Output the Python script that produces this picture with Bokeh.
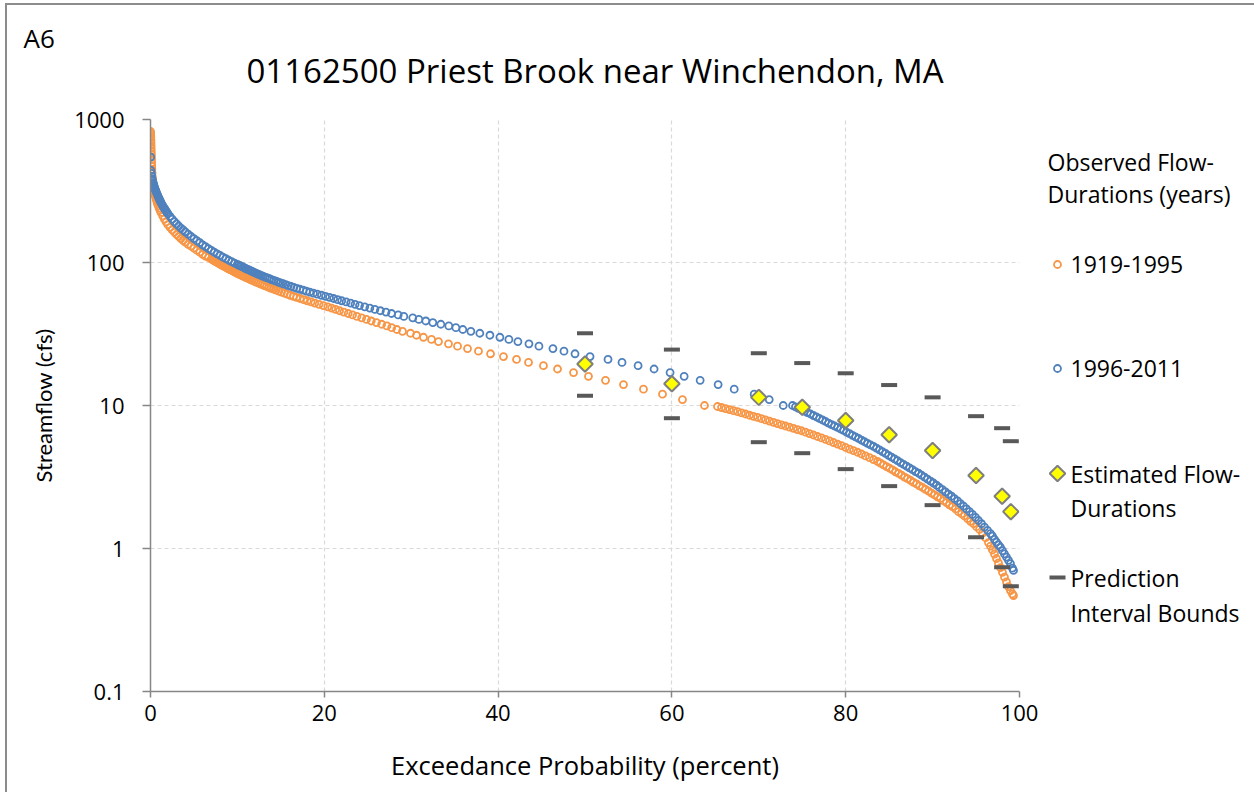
import numpy as np
from bokeh.plotting import figure
from bokeh.models import Range1d, FixedTicker, Title
from bokeh.layouts import row
from bokeh.embed import file_html
from bokeh.resources import INLINE
from bokeh.core.properties import value

FONT = "Open Sans"
ORANGE = "#F79646"
BLUE = "#4F81BD"

# ---------------- data ----------------
# Observed flow-durations 1919-1995 : exceedance (percent) and streamflow (cfs)
obs_a_top_pct = [0.01, 0.02, 0.03, 0.04, 0.05, 0.06, 0.07, 0.08, 0.09, 0.10, 0.11, 0.12, 0.13, 0.14, 0.16, 0.18,
                 0.2, 0.25, 0.3, 0.35, 0.4, 0.45, 0.5, 0.575, 0.65, 0.725, 0.8, 0.9, 1.0, 1.1, 1.2, 1.4, 1.6, 1.8,
                 2.0, 2.25, 2.5, 2.75, 3.0, 3.25, 3.5, 3.75, 4.0, 4.33, 4.67, 5.0, 5.33, 5.67, 6.0, 6.33, 6.67, 7.0]
obs_a_top_cfs = [824, 800, 775, 750, 720, 690, 660, 630, 600, 575, 550, 525, 500, 475, 450, 425,
                 400, 380, 360, 342, 325, 312, 300, 289, 278, 268, 258, 249, 240, 232, 224, 212, 201, 192,
                 184, 176, 169, 163, 157, 152, 147, 143, 139, 134, 130, 126, 122, 118, 114, 111, 108.5, 105.8]
obs_a_mid_cfs = [105, 104, 103, 102, 101, 100, 99, 98, 97, 96, 95, 94, 93, 92, 91, 90, 89, 88, 87, 86, 85, 84,
                 83, 82, 81, 80, 79, 78, 77, 76, 75, 74, 73, 72, 71, 70, 69, 68, 67, 66, 65, 64, 63, 62, 61, 60,
                 59, 58, 57, 56, 55, 54, 53, 52, 51, 50, 49, 48, 47, 46, 45, 44, 43, 42, 41, 40, 39, 38, 37, 36,
                 35, 34, 33, 32, 31, 30, 29, 28, 27, 26, 25, 24, 23, 22, 21, 20, 19, 18, 17, 16, 15, 14, 13, 12,
                 11, 10]
obs_a_mid_pct = [7.1, 7.21, 7.33, 7.45, 7.57, 7.69, 7.81, 7.93, 8.06, 8.19, 8.33, 8.47, 8.61, 8.75, 8.89, 9.03,
                 9.19, 9.35, 9.51, 9.67, 9.83, 9.98, 10.16, 10.35, 10.53, 10.71, 10.89, 11.08, 11.29, 11.5, 11.71,
                 11.92, 12.14, 12.38, 12.62, 12.86, 13.1, 13.37, 13.63, 13.89, 14.18, 14.47, 14.76, 15.07, 15.4,
                 15.73, 16.07, 16.44, 16.81, 17.21, 17.63, 18.04, 18.48, 18.91, 19.4, 19.9, 20.4, 20.85, 21.3,
                 21.75, 22.25, 22.75, 23.25, 23.75, 24.3, 24.85, 25.4, 26.0, 26.6, 27.2, 27.75, 28.35, 29.0,
                 29.92, 30.61, 31.41, 32.34, 33.14, 34.29, 35.33, 36.48, 37.74, 39.13, 40.62, 42.12, 43.5, 45.22,
                 46.84, 48.68, 50.4, 52.36, 54.43, 56.73, 58.92, 61.22, 63.75]
obs_a_low_pct = [65.25, 65.71, 66.17, 66.63, 67.09, 67.55, 68.01, 68.47, 68.93, 69.39, 69.85, 70.31, 70.77,
                 71.23, 71.69, 72.15, 72.61, 73.07, 73.53, 73.99, 74.45, 74.91, 75.37, 75.83, 76.29, 76.75,
                 77.22, 77.68, 78.14, 78.60, 79.06, 79.52, 79.98, 80.44, 80.90, 81.36, 81.82, 82.28, 82.74,
                 83.20, 83.66, 84.00, 84.35, 84.70, 85.04, 85.39, 85.73, 86.08, 86.42, 86.77, 87.11, 87.46,
                 87.80, 88.15, 88.49, 88.84, 89.18, 89.53, 89.87, 90.22, 90.56, 90.91, 91.25, 91.60, 91.94,
                 92.29, 92.64, 92.98, 93.33, 93.67, 94.02, 94.36, 94.71, 95.05, 95.40, 95.74, 96.09, 96.43,
                 96.66, 96.89, 97.12, 97.35, 97.58, 97.81, 98.04, 98.27, 98.50, 98.73, 98.96, 99.19, 99.31]
obs_a_low_cfs = [9.84, 9.68, 9.51, 9.36, 9.20, 9.05, 8.89, 8.72, 8.55, 8.39, 8.25, 8.09, 7.93, 7.78, 7.63,
                 7.47, 7.33, 7.19, 7.05, 6.92, 6.79, 6.66, 6.51, 6.36, 6.22, 6.07, 5.93, 5.79, 5.65, 5.51, 5.37,
                 5.24, 5.10, 4.96, 4.84, 4.71, 4.58, 4.44, 4.32, 4.19, 4.06, 3.95, 3.84, 3.74, 3.64, 3.55, 3.44,
                 3.35, 3.26, 3.16, 3.08, 2.99, 2.90, 2.83, 2.74, 2.67, 2.59, 2.52, 2.44, 2.37, 2.30, 2.24, 2.16,
                 2.09, 2.02, 1.96, 1.89, 1.81, 1.75, 1.69, 1.62, 1.55, 1.49, 1.42, 1.36, 1.28, 1.19, 1.10, 1.04,
                 0.976, 0.915, 0.851, 0.792, 0.736, 0.682, 0.631, 0.585, 0.542, 0.508, 0.481, 0.469]

# Observed flow-durations 1996-2011
obs_b_top_pct = [0.02, 0.06, 0.1, 0.15, 0.2, 0.25, 0.3, 0.35, 0.4, 0.45, 0.5, 0.55, 0.6, 0.675, 0.75, 0.825,
                 0.9, 0.975, 1.05, 1.125, 1.2, 1.3, 1.4, 1.5, 1.6, 1.7, 1.8, 1.9, 2.0, 2.25, 2.5, 2.75, 3.0,
                 3.25, 3.5, 3.75, 4.0, 4.33, 4.67, 5.0, 5.33, 5.67, 6.0, 6.33, 6.67, 7.0, 7.33, 7.67, 8.0, 8.33,
                 8.67, 9.0, 9.33, 9.67, 10.0]
obs_b_top_cfs = [545, 440, 420, 400, 385, 373, 362, 353, 345, 337, 330, 324, 318, 310, 302, 295, 288, 281,
                 275, 269, 263, 256, 250, 244, 239, 234, 229, 224, 220, 210, 201, 193, 186, 180, 174, 169, 164,
                 158, 152, 147, 142, 137.5, 133, 129, 125, 121.5, 118, 115, 112, 109, 106.3, 103.7, 101.3, 99.1,
                 97]
obs_b_mid_cfs = [96, 95, 94, 93, 92, 91, 90, 89, 88, 87, 86, 85, 84, 83, 82, 81, 80, 79, 78, 77, 76, 75, 74,
                 73, 72, 71, 70, 69, 68, 67, 66, 65, 64, 63, 62, 61, 60, 59, 58, 57, 56, 55, 54, 53, 52, 51, 50,
                 49, 48, 47, 46, 45, 44, 43, 42, 41, 40, 39, 38, 37, 36, 35, 34, 33, 32, 31, 30, 29, 28, 27, 26,
                 25, 24, 23, 22, 21, 20, 19, 18, 17, 16, 15, 14, 13, 12, 11, 10]
obs_b_mid_pct = [10.15, 10.31, 10.46, 10.62, 10.77, 10.92, 11.09, 11.27, 11.45, 11.63, 11.8, 11.98, 12.18,
                 12.38, 12.58, 12.78, 12.98, 13.21, 13.45, 13.69, 13.93, 14.18, 14.45, 14.71, 14.97, 15.26,
                 15.56, 15.85, 16.17, 16.5, 16.83, 17.19, 17.56, 17.93, 18.33, 18.75, 19.19, 19.67, 20.14, 20.6,
                 21.07, 21.53, 22.0, 22.51, 23.03, 23.54, 24.05, 24.65, 25.24, 25.82, 26.45, 27.1, 27.74, 28.5,
                 29.15, 30.18, 30.88, 31.68, 32.49, 33.41, 34.33, 35.14, 35.94, 36.87, 37.9, 39.06, 40.21,
                 41.24, 42.28, 43.55, 44.7, 46.31, 47.58, 48.85, 50.58, 52.65, 54.26, 56.11, 57.95, 59.79,
                 61.41, 63.25, 65.32, 67.17, 69.47, 71.2, 72.81]
obs_b_low_pct = [73.88, 74.22, 74.57, 74.91, 75.26, 75.60, 75.95, 76.29, 76.64, 76.98, 77.33, 77.68, 78.02,
                 78.37, 78.71, 79.06, 79.40, 79.75, 80.09, 80.44, 80.78, 81.13, 81.47, 81.82, 82.16, 82.51,
                 82.85, 83.20, 83.54, 83.89, 84.23, 84.58, 84.93, 85.27, 85.62, 85.96, 86.31, 86.65, 87.00,
                 87.34, 87.69, 88.03, 88.38, 88.72, 89.07, 89.41, 89.76, 90.10, 90.45, 90.79, 91.14, 91.48,
                 91.83, 92.17, 92.52, 92.87, 93.21, 93.56, 93.90, 94.25, 94.59, 94.94, 95.28, 95.63, 95.97,
                 96.32, 96.66, 96.89, 97.12, 97.35, 97.58, 97.81, 98.04, 98.27, 98.50, 98.73, 98.96, 99.19, 99.31]
obs_b_low_cfs = [10.0, 9.78, 9.56, 9.35, 9.14, 8.93, 8.72, 8.51, 8.31, 8.11, 7.92, 7.73, 7.54, 7.36, 7.19,
                 7.02, 6.85, 6.69, 6.52, 6.35, 6.19, 6.03, 5.88, 5.73, 5.58, 5.44, 5.30, 5.17, 5.04, 4.89, 4.75,
                 4.62, 4.48, 4.36, 4.23, 4.11, 3.99, 3.88, 3.77, 3.66, 3.56, 3.45, 3.36, 3.26, 3.16, 3.06, 2.96,
                 2.87, 2.77, 2.67, 2.58, 2.49, 2.40, 2.32, 2.23, 2.15, 2.06, 1.98, 1.89, 1.81, 1.73, 1.65, 1.57,
                 1.49, 1.41, 1.34, 1.27, 1.22, 1.16, 1.11, 1.06, 1.02, 0.965, 0.917, 0.871, 0.827, 0.785, 0.729,
                 0.702]

# Estimated flow-durations and prediction interval bounds
est_pct = [50, 60, 70, 75, 80, 85, 90, 95, 98, 99]
est_cfs = [19.5, 14.2, 11.4, 9.73, 7.85, 6.24, 4.84, 3.24, 2.32, 1.81]
pi_upper = [32.0, 24.6, 23.2, 19.8, 16.8, 13.9, 11.4, 8.42, 6.94, 5.63]
pi_lower = [11.7, 8.15, 5.54, 4.64, 3.59, 2.73, 2.01, 1.20, 0.74, 0.545]

x_ticks = [0, 20, 40, 60, 80, 100]
y_ticks = [0.1, 1, 10, 100, 1000]
y_tick_labels = ["0.1", "1", "10", "100", "1000"]

title_text = "01162500 Priest Brook near Winchendon, MA"
panel_text = "A6"
legend_title = ["Observed Flow-", "Durations (years)"]
series_names = ["1919-1995", "1996-2011", "Estimated Flow-\nDurations", "Prediction\nInterval Bounds"]


def cat(a, b, c):
    return list(a) + list(b) + list(c)


a_pct = cat(obs_a_top_pct, obs_a_mid_pct, obs_a_low_pct)
a_cfs = cat(obs_a_top_cfs, obs_a_mid_cfs, obs_a_low_cfs)
b_pct = cat(obs_b_top_pct, obs_b_mid_pct, obs_b_low_pct)
b_cfs = cat(obs_b_top_cfs, obs_b_mid_cfs, obs_b_low_cfs)
na = min(len(a_pct), len(a_cfs))
nb = min(len(b_pct), len(b_cfs))

OX, OY = 7, 5   # outer page border offset

# ---------------- main plot ----------------
p = figure(width=1045 - OX, height=792 - OY, y_axis_type="log",
           x_range=Range1d(0, 100), y_range=Range1d(0.1, 1000),
           output_backend="svg", toolbar_location=None,
           min_border_left=150 - OX, min_border_right=26, min_border_top=119 - OY,
           min_border_bottom=101)
p.outline_line_color = None
p.background_fill_color = "white"
p.border_fill_color = "white"

# outermost above-panel: the panel tag "A6"; next to the frame: the chart title
p.title = Title(text=panel_text, align="left", offset=-127, standoff=-72,
                text_font=FONT, text_font_size="26px", text_font_style="normal", text_color="black")
p.add_layout(Title(text=title_text, align="left", offset=96, standoff=53,
                   text_font=FONT, text_font_size="33px", text_font_style="normal", text_color="black"),
             "above")

p.xaxis.ticker = FixedTicker(ticks=x_ticks)
p.yaxis.ticker = FixedTicker(ticks=y_ticks)
p.yaxis.major_label_overrides = {t: s for t, s in zip(y_ticks, y_tick_labels)}

for ax in (p.xaxis[0], p.yaxis[0]):
    ax.axis_line_color = "#868686"
    ax.axis_line_width = 1.5
    ax.major_tick_line_color = "#868686"
    ax.major_tick_line_width = 1.5
    ax.minor_tick_line_color = None
    ax.major_tick_in = 0
    ax.major_label_text_font = FONT
    ax.major_label_text_font_size = "22px"
    ax.major_label_text_color = "black"
    ax.axis_label_text_font_style = "normal"
    ax.axis_label_text_color = "black"

p.xaxis.axis_label = "Exceedance Probability (percent)"
p.xaxis.axis_label_text_font = FONT
p.xaxis.axis_label_text_font_size = "25.5px"
p.xaxis.major_tick_out = 6
p.xaxis.major_label_standoff = 7
p.xaxis.axis_label_standoff = 24
p.yaxis.axis_label = "Streamflow (cfs)"
p.yaxis.axis_label_text_font = "Lato"
p.yaxis.axis_label_text_font_size = "22px"
p.yaxis.major_tick_out = 8
p.yaxis.major_label_standoff = 18
p.yaxis.axis_label_standoff = 14

p.xgrid.ticker = FixedTicker(ticks=x_ticks)
p.ygrid.ticker = FixedTicker(ticks=y_ticks)
for g in (p.xgrid[0], p.ygrid[0]):
    g.grid_line_color = "#d9d9d9"
    g.grid_line_dash = "4 3"
    g.grid_line_width = 1.2

p.scatter(a_pct[:na], a_cfs[:na], marker="circle", size=7, fill_color=None,
          line_color=ORANGE, line_width=1.8)
p.scatter(b_pct[:nb], b_cfs[:nb], marker="circle", size=7, fill_color=None,
          line_color=BLUE, line_width=1.8)
p.scatter(est_pct, pi_upper, marker="dash", size=16, line_width=4, line_color="#595959")
p.scatter(est_pct, pi_lower, marker="dash", size=16, line_width=4, line_color="#595959")
p.scatter(est_pct, est_cfs, marker="square", angle=np.pi / 4, size=11,
          fill_color="#FFFF00", line_color="#7F7F7F", line_width=2)

# ---------------- legend panel (frame aligned with the main frame: y 119..691) ----------------
leg = figure(width=209, height=792 - OY, x_range=Range1d(1045, 1254), y_range=Range1d(691, 119),
             output_backend="svg", toolbar_location=None, min_border=0,
             x_axis_location=None, y_axis_location=None)
leg.grid.visible = False
leg.outline_line_color = None
leg.background_fill_color = "white"
leg.border_fill_color = "white"

leg.scatter([1057], [264], marker="circle", size=7, fill_color=None, line_color=ORANGE, line_width=1.8)
leg.scatter([1057], [368], marker="circle", size=7, fill_color=None, line_color=BLUE, line_width=1.8)
leg.scatter([1057], [473], marker="square", angle=np.pi / 4, size=11, fill_color="#FFFF00",
            line_color="#7F7F7F", line_width=2)
leg.scatter([1057], [577], marker="dash", size=16, line_width=4, line_color="#595959")

leg_lines = legend_title + [series_names[0], series_names[1]] + series_names[2].split("\n") + series_names[3].split("\n")
leg.text(x=[1047, 1047, 1070, 1070, 1070, 1070, 1070, 1070],
         y=[161, 193, 264, 368, 473, 507, 577, 612],
         text=leg_lines, text_font=value(FONT), text_font_size="23px",
         text_baseline="middle", text_align="left", text_color="black")

layout = row(p, leg, styles={"margin-left": "5px", "margin-top": "3px",
                             "border-left": "2px solid #8c8c8c", "border-top": "2px solid #8c8c8c"})

open("out.html", "w").write(file_html(layout, INLINE))
